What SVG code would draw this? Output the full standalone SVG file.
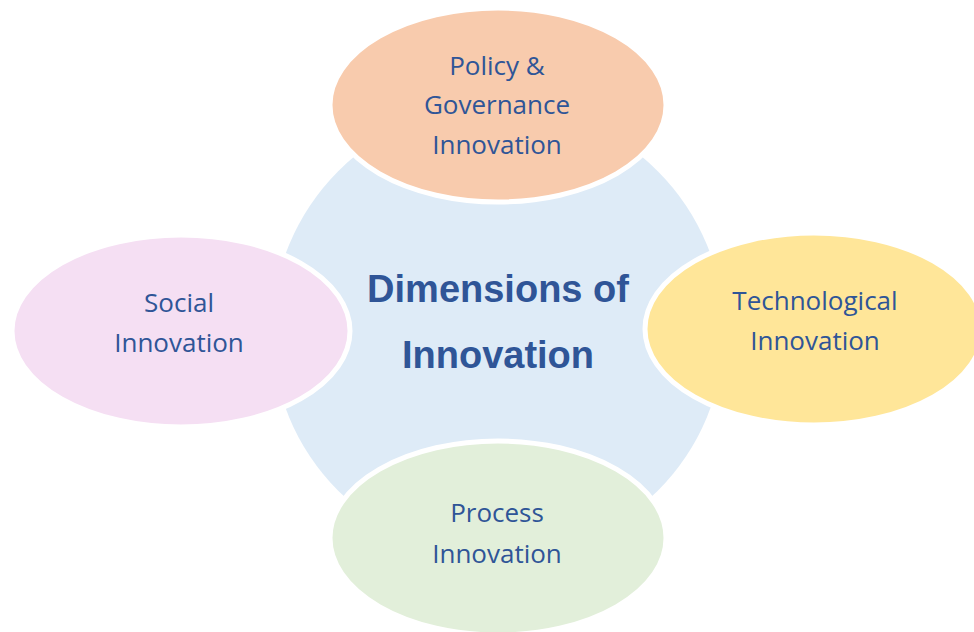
<svg xmlns="http://www.w3.org/2000/svg" width="974" height="632" viewBox="0 0 974 632">
  <style>
    .petal { stroke: #FFFFFF; stroke-width: 5; }
    .lbl { font-family: "Open Sans", "Liberation Sans", sans-serif; font-size: 26px; fill: #2F5597; text-anchor: middle; }
    .title { font-family: "Liberation Sans", Arial, sans-serif; font-size: 38px; font-weight: bold; fill: #2F5597; text-anchor: middle; }
  </style>
  <rect width="974" height="632" fill="#FFFFFF"/>
  <g id="center">
    <circle cx="498" cy="331" r="226" fill="#DEEBF7"/>
    <text class="title" x="498" y="302">Dimensions of</text>
    <text class="title" x="498" y="368">Innovation</text>
  </g>
  <g id="connectors"></g>
  <g id="policy">
    <ellipse class="petal" cx="498" cy="105" rx="168" ry="97" fill="#F8CBAD"/>
    <text class="lbl" x="497" y="75">Policy &amp;</text>
    <text class="lbl" x="497" y="114">Governance</text>
    <text class="lbl" x="497" y="154">Innovation</text>
  </g>
  <g id="social">
    <ellipse class="petal" cx="181" cy="331" rx="169" ry="96" fill="#F5DFF3"/>
    <text class="lbl" x="179" y="312">Social</text>
    <text class="lbl" x="179" y="352">Innovation</text>
  </g>
  <g id="technological">
    <ellipse class="petal" cx="814" cy="329" rx="169" ry="96" fill="#FFE699"/>
    <text class="lbl" x="815" y="310">Technological</text>
    <text class="lbl" x="815" y="350">Innovation</text>
  </g>
  <g id="process">
    <ellipse class="petal" cx="498" cy="538" rx="168" ry="97" fill="#E2EFDA"/>
    <text class="lbl" x="497" y="522">Process</text>
    <text class="lbl" x="497" y="563">Innovation</text>
  </g>
</svg>
